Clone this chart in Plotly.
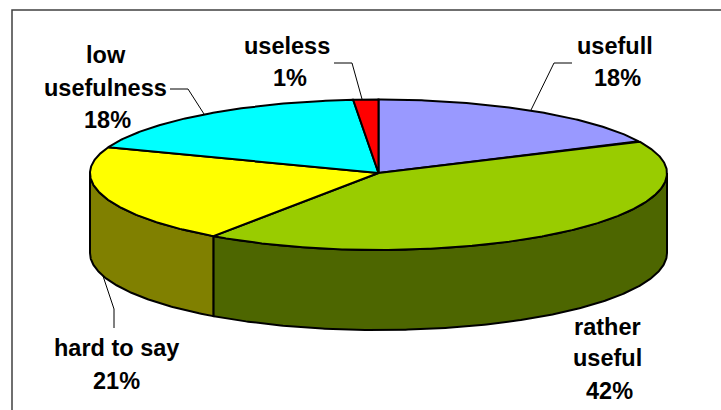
import numpy as np
import plotly.graph_objects as go

labels = ["usefull", "rather useful", "hard to say", "low usefulness", "useless"]
values = [17.9, 41.8, 21.0, 17.9, 1.4]
top_colors = ["#9999FF", "#99CC00", "#FFFF00", "#00FFFF", "#FF0000"]
side_colors = ["#4D4D80", "#4D6600", "#808000", "#008080", "#800000"]

CX, CY, RX, RY_BACK, RY_FRONT, DEPTH = 378.5, 173.0, 288.5, 73.5, 77.0, 80.0
LINE = dict(color="#000000", width=2)
FONT = dict(family="Liberation Sans, Arial, sans-serif", size=23.5, color="#000000")

label_lines = [
    ("useless", 287, 46), ("1%", 290, 78),
    ("low", 106, 55), ("usefulness", 105, 88), ("18%", 107, 120),
    ("usefull", 615, 46), ("18%", 617, 78),
    ("rather", 607, 327), ("useful", 607, 358), ("42%", 609, 391),
    ("hard to say", 116, 348), ("21%", 116, 381),
]
leaders = [
    ([334, 352, 362], [63, 63, 99]),
    ([170, 188, 204], [89, 89, 114]),
    ([572, 554, 531], [63, 63, 110]),
    ([114, 114, 103], [328, 309, 276]),
]


def arc(a0, a1, yoff=0.0):
    t = np.radians(np.linspace(a0, a1, max(int(abs(a1 - a0) * 2), 2)))
    c = np.cos(t)
    return CX + RX * np.sin(t), CY + yoff - np.where(c > 0, RY_BACK, RY_FRONT) * c


fig = go.Figure()
edges = np.concatenate([[0], np.cumsum(values) / sum(values) * 360])

# side walls (only the front half, 90 to 270 degrees, is visible)
for i, col in enumerate(side_colors):
    a0, a1 = max(edges[i], 90), min(edges[i + 1], 270)
    if a1 <= a0:
        continue
    x0, y0 = arc(a0, a1)
    x1, y1 = arc(a1, a0, DEPTH)
    fig.add_trace(go.Scatter(
        x=np.r_[x0, x1, x0[0]], y=np.r_[y0, y1, y0[0]], mode="lines",
        fill="toself", fillcolor=col, line=LINE, hoverinfo="skip", showlegend=False))

# top face slices
for i, col in enumerate(top_colors):
    x0, y0 = arc(edges[i], edges[i + 1])
    fig.add_trace(go.Scatter(
        x=np.r_[CX, x0, CX], y=np.r_[CY, y0, CY], mode="lines",
        fill="toself", fillcolor=col, line=LINE, name=labels[i],
        hoverinfo="name", showlegend=False))

# leader lines
for lx, ly in leaders:
    fig.add_trace(go.Scatter(x=lx, y=ly, mode="lines",
                             line=dict(color="#000000", width=1),
                             hoverinfo="skip", showlegend=False))

for text, x, y in label_lines:
    fig.add_annotation(x=x, y=y, text=f"<b>{text}</b>", showarrow=False,
                       font=FONT, xanchor="center", yanchor="middle")

# chart frame, running off the right and bottom of the picture
fig.add_shape(type="rect", x0=12, y0=10, x1=760, y1=450,
              line=dict(color="#404040", width=1.5), fillcolor="rgba(0,0,0,0)", layer="below")

fig.update_layout(
    width=721, height=410, margin=dict(l=0, r=0, t=0, b=0),
    paper_bgcolor="#FFFFFF", plot_bgcolor="#FFFFFF", showlegend=False,
    xaxis=dict(range=[0, 721], visible=False, fixedrange=True),
    yaxis=dict(range=[410, 0], visible=False, fixedrange=True),
)
fig.write_html("out.html", config=dict(displayModeBar=False),
               post_script="document.body.style.margin='0';document.body.style.overflow='hidden';")
